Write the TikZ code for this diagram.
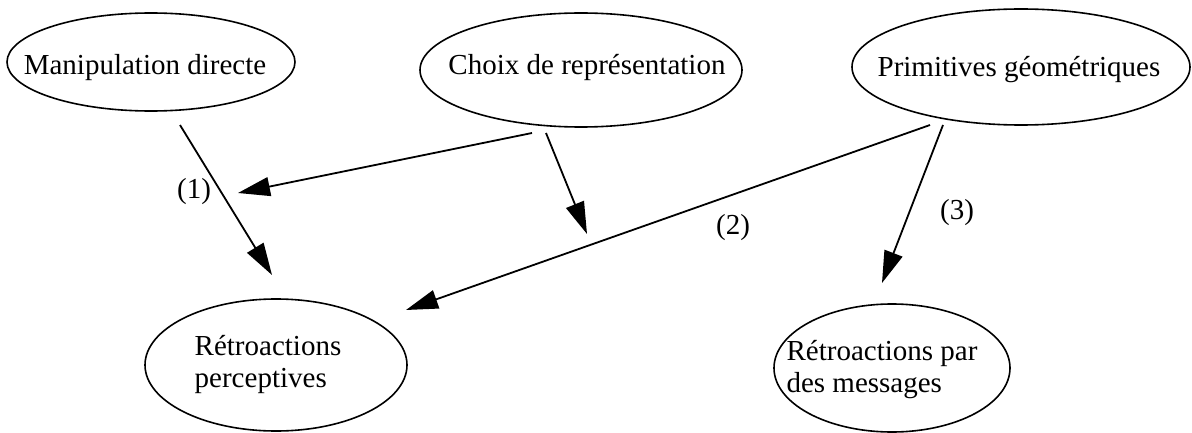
\documentclass[tikz,border=0pt]{standalone}
\usepackage{fontspec}
\setmainfont{Liberation Serif}
\usetikzlibrary{arrows.meta, positioning, shapes.geometric}

\begin{document}
\begin{tikzpicture}[x=1pt, y=-1pt, >={Triangle[length=32pt, width=19pt]},
  bubble/.style={draw, ellipse, line width=1.6pt, inner sep=0pt},
  link/.style={->, line width=1.8pt},
  tag/.style={font=\fontsize{29}{32}\selectfont},
  every node/.style={font=\fontsize{29}{32}\selectfont}]
  \useasboundingbox (0,0) rectangle (1192,433);
  % Top row
  \node[bubble, minimum width=288pt, minimum height=98pt,
    label={[xshift=-6pt, yshift=-6pt]center:Manipulation directe}] (manip) at (151,62) {};
  \node[bubble, minimum width=322pt, minimum height=114pt,
    label={[xshift=6pt, yshift=2pt]center:Choix de représentation}] (choix) at (581,70) {};
  \node[bubble, minimum width=338pt, minimum height=116pt,
    label={[xshift=-2pt, yshift=-3pt]center:Primitives géométriques}] (prim) at (1021,67) {};
  % Bottom row
  \node[bubble, minimum width=262pt, minimum height=132pt,
    label={[align=left, xshift=-8pt]center:Rétroactions\\perceptives}] (percep) at (276,365) {};
  \node[bubble, minimum width=236pt, minimum height=128pt,
    label={[align=left, xshift=-10pt, yshift=-2pt]center:Rétroactions par\\des messages}] (messg) at (892,368) {};
  % Arrow ends
  \coordinate (manipout) at (180,125);
  \coordinate (manipin) at (272,275);
  \coordinate (choixoutA) at (532,133);
  \coordinate (choixinA) at (238,193);
  \coordinate (choixoutB) at (546,133);
  \coordinate (choixinB) at (587,234);
  \coordinate (primoutA) at (930,125);
  \coordinate (priminA) at (406,310);
  \coordinate (primoutB) at (943,125);
  \coordinate (primminB) at (882,283);
  % Arrows
  \draw[link] (manipout) -- (manipin);
  \draw[link] (choixoutA) -- (choixinA);
  \draw[link] (choixoutB) -- (choixinB);
  \draw[link] (primoutA) -- (priminA);
  \draw[link] (primoutB) -- (primminB);
  % Labels
  \node[tag] (one) at (194,192) {(1)};
  \node[tag] (two) at (733,228) {(2)};
  \node[tag] (three) at (957,213) {(3)};
\end{tikzpicture}
\end{document}
